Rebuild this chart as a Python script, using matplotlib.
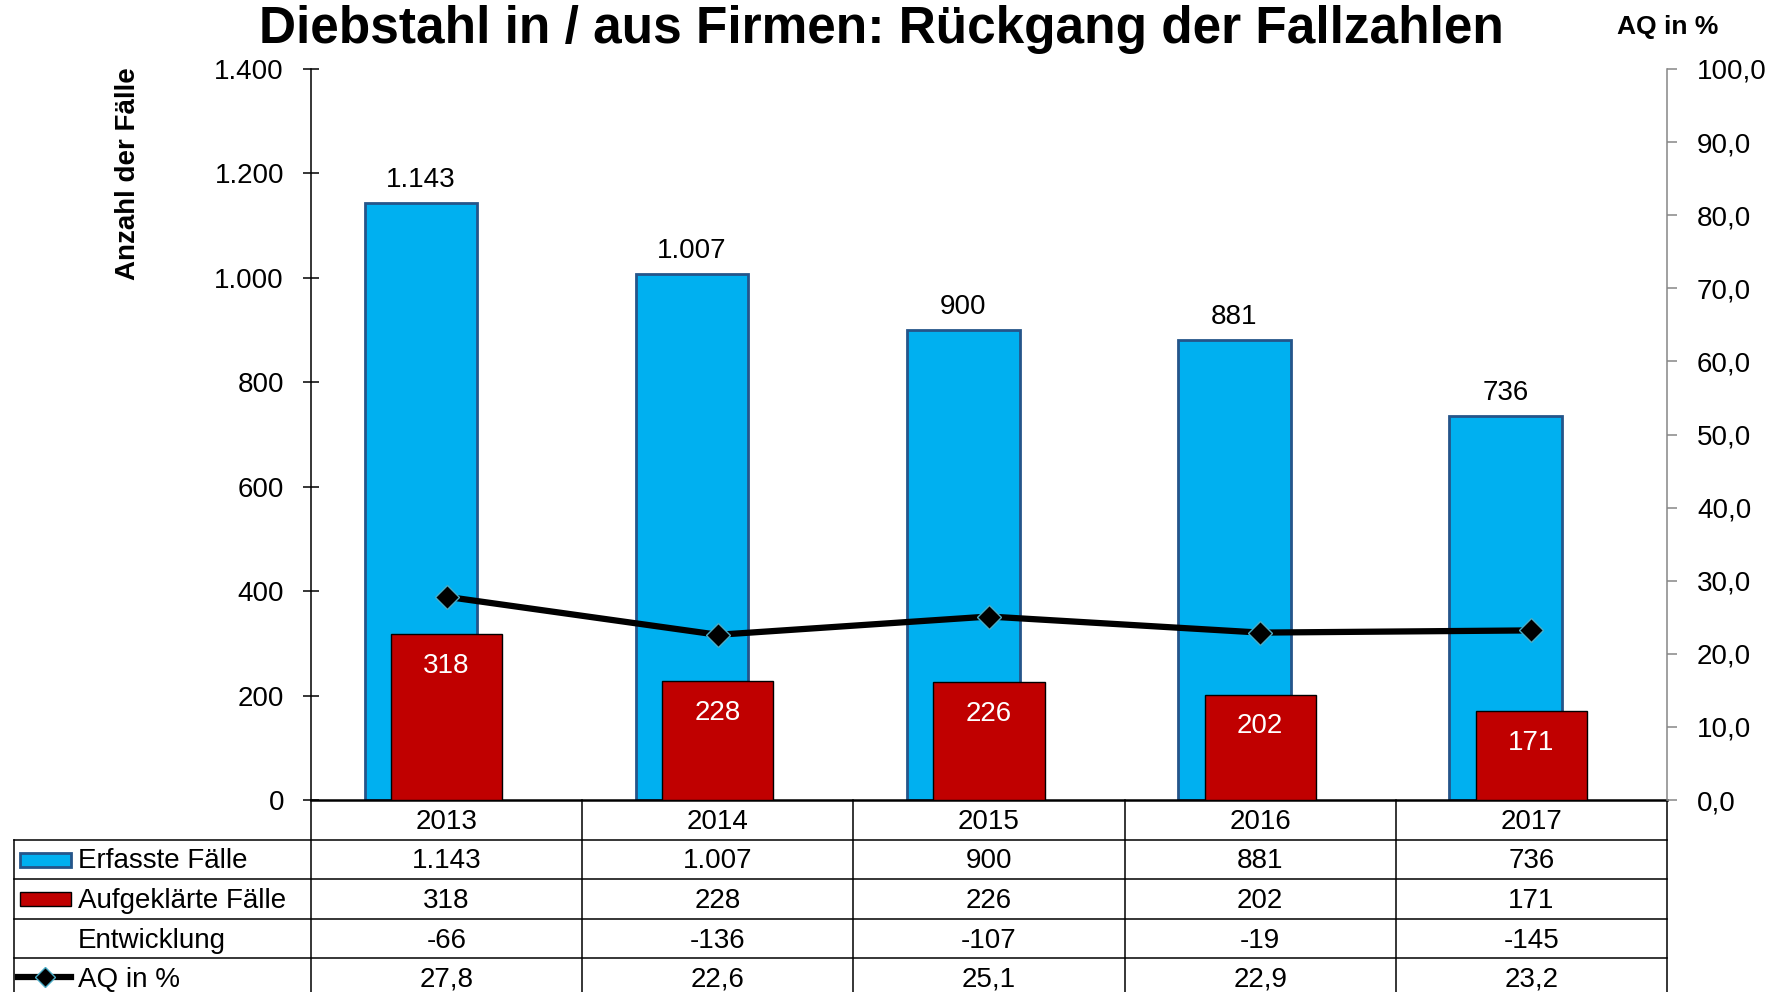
import matplotlib
matplotlib.use("Agg")
import matplotlib.pyplot as plt
import matplotlib.transforms as mtransforms
import numpy as np
from matplotlib.lines import Line2D
from matplotlib.patches import Rectangle
from matplotlib.ticker import FuncFormatter, MultipleLocator

plt.rcParams["font.family"] = ["Liberation Sans", "DejaVu Sans"]

# data
YEARS = ["2013", "2014", "2015", "2016", "2017"]
ERFASST = [1143, 1007, 900, 881, 736]
AUFGEKLAERT = [318, 228, 226, 202, 171]
ENTWICKLUNG = [-66, -136, -107, -19, -145]
AQ = [27.8, 22.6, 25.1, 22.9, 23.2]

BLUE = "#00B0F0"
BLUE_EDGE = "#25558A"
RED = "#C00000"
MARKER_EDGE = "#4BACC6"
GREY = "#868686"
FS = 20  # base font size

W, H = 1787, 992
L, R, T, B = 311, 1667, 69, 800  # plot area in pixels


def de_int(v, _=None):
    return f"{int(round(v)):,}".replace(",", ".")


def de_dec(v, _=None):
    return f"{v:.1f}".replace(".", ",")


def ay(py):
    """pixel row -> axes fraction"""
    return (B - py) / (B - T)


def dx(px):
    """pixel column -> category data units"""
    return -0.5 + (px - L) / ((R - L) / len(YEARS))


fig = plt.figure(figsize=(W / 100, H / 100), dpi=100, facecolor="white")
ax = fig.add_axes([L / W, 1 - B / H, (R - L) / W, (B - T) / H])
x = np.arange(len(YEARS))

blue = ax.bar(x - 0.095, ERFASST, width=0.415, color=BLUE,
              edgecolor=BLUE_EDGE, linewidth=2, zorder=2)
red = ax.bar(x, AUFGEKLAERT, width=0.41, color=RED,
             edgecolor="black", linewidth=1, zorder=3)

for rect, v in zip(blue, ERFASST):
    ax.annotate(de_int(v), (rect.get_x() + rect.get_width() / 2, v),
                xytext=(0, 16.5), textcoords="offset points",
                ha="center", va="center", fontsize=FS, color="black")
for rect, v in zip(red, AUFGEKLAERT):
    ax.annotate(de_int(v), (rect.get_x() + rect.get_width() / 2, v),
                xytext=(0, -23), textcoords="offset points",
                ha="center", va="center", fontsize=FS, color="white", zorder=4)

ax.set_xlim(-0.5, len(YEARS) - 0.5)
ax.set_ylim(0, 1400)
ax.set_xticks([])
ax.yaxis.set_major_locator(MultipleLocator(200))
ax.yaxis.set_major_formatter(FuncFormatter(de_int))
ax.tick_params(axis="y", direction="inout", length=11.5, width=1.1,
               labelsize=FS, pad=13.7, colors="black")
ax.spines["top"].set_visible(False)
ax.spines["right"].set_visible(False)
ax.spines["left"].set_linewidth(1.1)
ax.spines["bottom"].set_linewidth(1.8)

ax2 = ax.twinx()
ax2.plot(x, AQ, color="black", linewidth=4.5, marker="D", markersize=12,
         markerfacecolor="black", markeredgecolor=MARKER_EDGE,
         markeredgewidth=1, zorder=5)
ax2.set_ylim(0, 100)
ax2.yaxis.set_major_locator(MultipleLocator(10))
ax2.yaxis.set_major_formatter(FuncFormatter(de_dec))
ax2.tick_params(axis="y", direction="out", length=7.2, width=1.1,
                color=GREY, labelcolor="black", labelsize=FS, pad=14.4)
for side in ("top", "left", "bottom"):
    ax2.spines[side].set_visible(False)
ax2.spines["right"].set_color(GREY)
ax2.spines["right"].set_linewidth(1.1)

# data table below the plot
trans = mtransforms.blended_transform_factory(ax.transData, ax.transAxes)
row_edges = [800, 840, 879, 919, 958, 998]
table_left = dx(14)
line_kw = dict(color="black", linewidth=1.1, transform=trans, clip_on=False)

for py in row_edges[1:5]:
    ax.add_line(Line2D([table_left, len(YEARS) - 0.5], [ay(py)] * 2, **line_kw))
for k in range(len(YEARS) + 1):
    ax.add_line(Line2D([k - 0.5] * 2, [0, ay(row_edges[-1])], **line_kw))
ax.add_line(Line2D([table_left] * 2, [ay(840), ay(row_edges[-1])], **line_kw))

rows = [
    YEARS,
    [de_int(v) for v in ERFASST],
    [de_int(v) for v in AUFGEKLAERT],
    [str(v) for v in ENTWICKLUNG],
    [de_dec(v) for v in AQ],
]
headers = [None, "Erfasste Fälle", "Aufgeklärte Fälle", "Entwicklung", "AQ in %"]
for r, (cells, head) in enumerate(zip(rows, headers)):
    yc = ay((row_edges[r] + row_edges[r + 1]) / 2 + 2)
    for xi, txt in zip(x, cells):
        ax.text(xi, yc, txt, transform=trans, ha="center", va="center",
                fontsize=FS, clip_on=False)
    if head:
        ax.text(dx(78), yc, head, transform=trans, ha="left", va="center",
                fontsize=FS, clip_on=False)

# legend keys inside the table
for py, fc, ec in ((860, BLUE, BLUE_EDGE), (899, RED, "black")):
    ax.add_patch(Rectangle((dx(20), ay(py + 7)), dx(71) - dx(20), ay(py - 7) - ay(py + 7),
                           facecolor=fc, edgecolor=ec, linewidth=2 if ec == BLUE_EDGE else 1,
                           transform=trans, clip_on=False))
ax.add_line(Line2D([dx(18), dx(71)], [ay(977)] * 2, color="black", linewidth=4.5,
                   transform=trans, clip_on=False))
ax.add_line(Line2D([dx(45)], [ay(977)], marker="D", markersize=10,
                   markerfacecolor="black", markeredgecolor=MARKER_EDGE,
                   markeredgewidth=1, transform=trans, clip_on=False))

# titles
fig.text(881 / W, 1 - 43 / H, "Diebstahl in / aus Firmen: Rückgang der Fallzahlen",
         ha="center", va="baseline", fontsize=37, fontweight="bold")
fig.text(1668 / W, 1 - 34 / H, "AQ in %", ha="center", va="baseline",
         fontsize=19, fontweight="bold")
fig.text(128 / W, 1 - 174 / H, "Anzahl der Fälle", rotation=90,
         ha="center", va="center", fontsize=20, fontweight="bold")

fig.savefig("out.png", dpi=100, facecolor="white")
